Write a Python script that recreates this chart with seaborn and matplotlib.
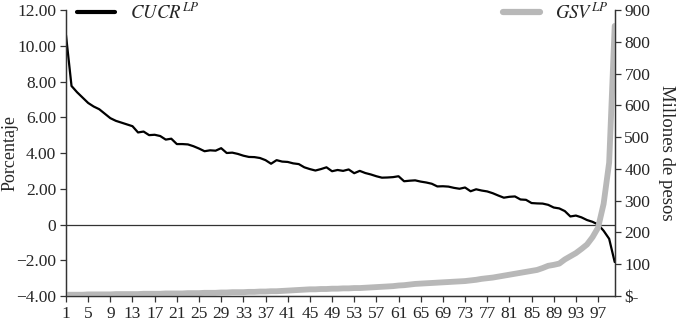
import numpy as np
import pandas as pd
import matplotlib
matplotlib.use("Agg")
import matplotlib.pyplot as plt
import seaborn as sns

# CUCR (percent, left axis) and GSV (millions of pesos, right axis), 100 ranked entities
cucr = [10.6, 7.75, 7.4, 7.1, 6.8, 6.6, 6.45, 6.2, 5.95, 5.8,
        5.7, 5.6, 5.5, 5.15, 5.2, 5.0, 5.02, 4.95, 4.75, 4.8,
        4.5, 4.5, 4.48, 4.38, 4.25, 4.1, 4.15, 4.13, 4.27, 4.0,
        4.02, 3.95, 3.85, 3.78, 3.77, 3.72, 3.6, 3.4, 3.6, 3.52,
        3.5, 3.42, 3.38, 3.2, 3.1, 3.02, 3.1, 3.2, 2.98, 3.05,
        3.0, 3.08, 2.87, 3.0, 2.88, 2.8, 2.7, 2.62, 2.63, 2.65,
        2.7, 2.42, 2.45, 2.47, 2.4, 2.35, 2.28, 2.13, 2.14, 2.12,
        2.05, 2.0, 2.07, 1.86, 1.97, 1.9, 1.85, 1.75, 1.62, 1.5,
        1.55, 1.57, 1.4, 1.38, 1.2, 1.18, 1.17, 1.1, 0.95, 0.9,
        0.75, 0.45, 0.5, 0.4, 0.25, 0.15, 0.0, -0.35, -0.8, -2.1]

gsv = [4, 4, 4, 4, 5, 5, 5, 5, 5, 6,
       6, 6, 6, 6, 7, 7, 7, 7, 8, 8,
       8, 8, 9, 9, 9, 10, 10, 10, 11, 11,
       12, 12, 12, 13, 13, 14, 14, 15, 15, 16,
       17, 18, 19, 20, 21, 21, 22, 22, 23, 23,
       24, 24, 25, 25, 26, 27, 28, 29, 30, 31,
       33, 34, 36, 38, 39, 40, 41, 42, 43, 44,
       45, 46, 47, 49, 51, 54, 56, 58, 61, 64,
       67, 70, 73, 76, 79, 82, 88, 95, 98, 102,
       115, 125, 135, 148, 162, 185, 215, 290, 420, 850]

rank = list(range(1, 101))
xticks = list(range(1, 98, 4))
left_ticks = [12, 10, 8, 6, 4, 2, 0, -2, -4]
left_labels = ["12.00", "10.00", "8.00", "6.00", "4.00", "2.00", "0", "\u22122.00", "\u22124.00"]
right_ticks = [0, 100, 200, 300, 400, 500, 600, 700, 800, 900]
right_labels = ["$-", "100", "200", "300", "400", "500", "600", "700", "800", "900"]

df = pd.DataFrame({"rank": rank, "cucr": cucr, "gsv": gsv})

sns.set_style("ticks")
plt.rcParams["font.family"] = ["Liberation Serif", "DejaVu Serif"]
plt.rcParams["mathtext.fontset"] = "stix"

fig = plt.figure(figsize=(6.83, 3.23), dpi=100)
ax = fig.add_axes([0.0966, 0.0836, 0.8034, 0.8854])
ax2 = ax.twinx()

ax.axhline(0, color="#333333", lw=0.9, zorder=1)
sns.lineplot(data=df, x="rank", y="cucr", ax=ax, color="black", lw=1.6,
             label=r"$CUCR^{LP}$")
sns.lineplot(data=df, x="rank", y="gsv", ax=ax2, color="#b8b8b8", lw=4.2,
             label=r"$GSV^{LP}$")

ax.set_xlim(1, 100)
ax.set_ylim(-4, 12)
ax2.set_ylim(0, 900)
ax.set_xticks(xticks)
ax.set_xticklabels([str(t) for t in xticks], fontsize=12.5)
ax.set_yticks(left_ticks)
ax.set_yticklabels(left_labels, fontsize=12.5)
ax2.set_yticks(right_ticks)
ax2.set_yticklabels(right_labels, fontsize=12.5)

ax.set_xlabel("")
ax.set_ylabel("Porcentaje", fontsize=13)
ax.yaxis.set_label_coords(-0.087, 0.5)
ax2.set_ylabel("Millones de pesos", fontsize=13.5, rotation=-90, labelpad=18)

for a in (ax, ax2):
    a.spines["top"].set_visible(False)
    for s in a.spines.values():
        s.set_color("#333333")
        s.set_linewidth(0.9)
    a.tick_params(direction="out", length=4, width=0.9, color="#333333", pad=3)

leg1 = ax.legend(loc="upper left", bbox_to_anchor=(0.0, 1.065), frameon=False,
                 fontsize=13.5, handlelength=2.0, borderaxespad=0.2)
leg2 = ax2.legend(loc="upper right", bbox_to_anchor=(1.01, 1.065), frameon=False,
                  fontsize=13.5, handlelength=2.0, borderaxespad=0.2)
for h in leg1.get_lines():
    h.set_linewidth(3.0)
for h in leg2.get_lines():
    h.set_linewidth(4.5)

fig.savefig("out.png", dpi=100)
